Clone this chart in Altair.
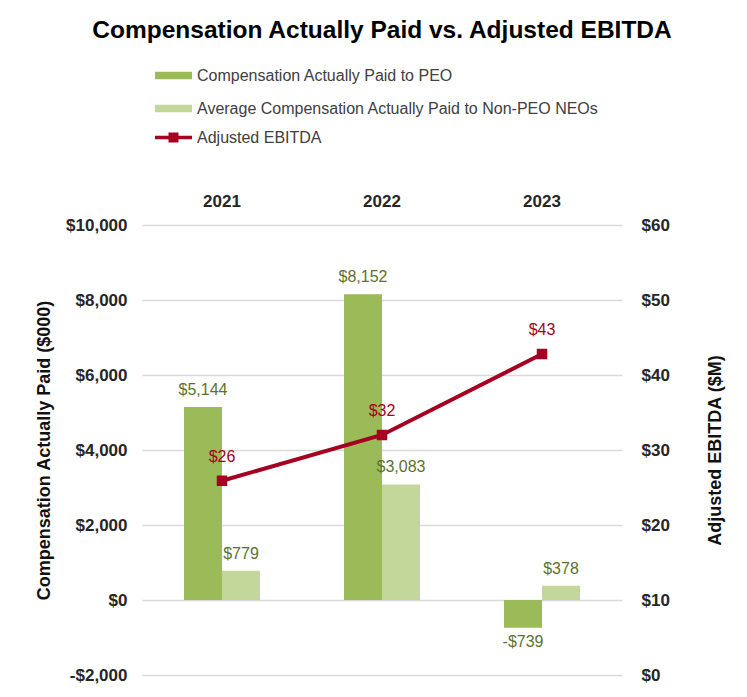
import altair as alt
import pandas as pd

years = ["2021", "2022", "2023"]
peo = [5144, 8152, -739]
non_peo = [779, 3083, 378]
ebitda = [25.9, 32.0, 42.8]
ebitda_labels = ["$26", "$32", "$43"]
series = ["Compensation Actually Paid to PEO",
          "Average Compensation Actually Paid to Non-PEO NEOs"]
line_series = "Adjusted EBITDA"
left_ticks = [-2000, 0, 2000, 4000, 6000, 8000, 10000]
right_ticks = [0, 10, 20, 30, 40, 50, 60]

bar_colors = ["#9BBB59", "#C4D79B"]
line_color = "#A50021"
label_green = "#5C7230"
font = "Liberation Sans"


def money(v):
    return f"${v:,}" if v >= 0 else f"-${-v:,}"


rows = []
for i, yr in enumerate(years):
    rows.append(dict(year=yr, series=series[0], value=peo[i], label=money(peo[i])))
    rows.append(dict(year=yr, series=series[1], value=non_peo[i], label=money(non_peo[i])))
bars_df = pd.DataFrame(rows)
line_df = pd.DataFrame(dict(year=years, ebitda=ebitda, label=ebitda_labels,
                            series=[line_series] * 3))

x_enc = alt.X("year:N", sort=years,
              scale=alt.Scale(paddingInner=0.525, paddingOuter=0.2625),
              axis=alt.Axis(orient="top", title=None, labelAngle=0,
                            labelFontWeight="bold", labelFontSize=17,
                            labelColor="#262626", ticks=False, domain=False,
                            labelPadding=15))
xoff = alt.XOffset("series:N", sort=series,
                   scale=alt.Scale(domain=series, paddingInner=0, paddingOuter=0))
y_left = alt.Y("value:Q",
               scale=alt.Scale(domain=[-2000, 10000], nice=False, zero=False),
               axis=alt.Axis(values=left_ticks, title="Compensation Actually Paid ($000)",
                             labelExpr="(datum.value < 0 ? '-' : '') + '$' + format(abs(datum.value), ',')",
                             labelFontWeight="bold", labelFontSize=17, labelColor="#262626",
                             titleFontSize=18, titleFontWeight="bold", titleColor="#111111",
                             titlePadding=12, labelPadding=15, ticks=False, domain=False,
                             grid=True, gridColor="#D9D9D9", gridWidth=1.5))

bars = alt.Chart(bars_df).mark_bar().encode(
    x=x_enc, xOffset=xoff, y=y_left,
    color=alt.Color("series:N", sort=series,
                    scale=alt.Scale(domain=series, range=bar_colors),
                    legend=alt.Legend(orient="none", legendX=13, legendY=-168, title=None,
                                      symbolType="M-1,-0.2H1V0.2H-1Z", symbolSize=1369,
                                      symbolStrokeWidth=0, labelFontSize=16,
                                      labelColor="#404040", labelFont=font,
                                      rowPadding=6, labelOffset=5, labelLimit=600))
)
pos_text = alt.Chart(bars_df).transform_filter("datum.value >= 0").mark_text(
    dy=-17, fontSize=16, color=label_green, font=font).encode(
    x=x_enc, xOffset=xoff, y=y_left, text="label:N")
neg_text = alt.Chart(bars_df).transform_filter("datum.value < 0").mark_text(
    dy=14, fontSize=16, color=label_green, font=font).encode(
    x=x_enc, xOffset=xoff, y=y_left, text="label:N")
left = alt.layer(bars, pos_text, neg_text)

y_right = alt.Y("ebitda:Q",
                scale=alt.Scale(domain=[0, 60], nice=False),
                axis=alt.Axis(orient="right", values=right_ticks, format="$.0f",
                              title="Adjusted EBITDA ($M)", titleAngle=270,
                              labelFontWeight="bold", labelFontSize=17, labelColor="#262626",
                              titleFontSize=18, titleFontWeight="bold", titleColor="#111111",
                              titlePadding=55, labelPadding=19, ticks=False, domain=False,
                              grid=False))

line = alt.Chart(line_df).mark_line(strokeWidth=4).encode(
    x=x_enc, y=y_right,
    stroke=alt.Stroke("series:N", scale=alt.Scale(domain=[line_series], range=[line_color]),
                      legend=alt.Legend(orient="none", legendX=13, legendY=-106, title=None,
                                        symbolType="M-1,-0.1H1V0.1H-1Z M-0.27,-0.27H0.27V0.27H-0.27Z",
                                        symbolSize=1369, symbolFillColor=line_color,
                                        symbolStrokeWidth=0, labelFontSize=16,
                                        labelColor="#404040", labelFont=font,
                                        labelOffset=5, labelLimit=600))
)
points = alt.Chart(line_df).mark_square(size=110, color=line_color, opacity=1).encode(
    x=x_enc, y=y_right)
line_text = alt.Chart(line_df).mark_text(dy=-24, fontSize=16, color=line_color, font=font).encode(
    x=x_enc, y=y_right, text="label:N")
right = alt.layer(line, points, line_text)

chart = alt.layer(left, right).resolve_scale(y="independent").properties(
    width=480, height=450,
    title=alt.Title("Compensation Actually Paid vs. Adjusted EBITDA", fontSize=24.5,
                    fontWeight="bold", color="#000000", font=font, anchor="middle",
                    offset=14),
    autosize=alt.AutoSizeParams(type="none"),
    padding={"left": 134, "top": 217, "right": 117, "bottom": 14},
).configure(font=font).configure_view(stroke=None)

chart.save("out.html", embed_options={"renderer": "svg", "actions": False})
